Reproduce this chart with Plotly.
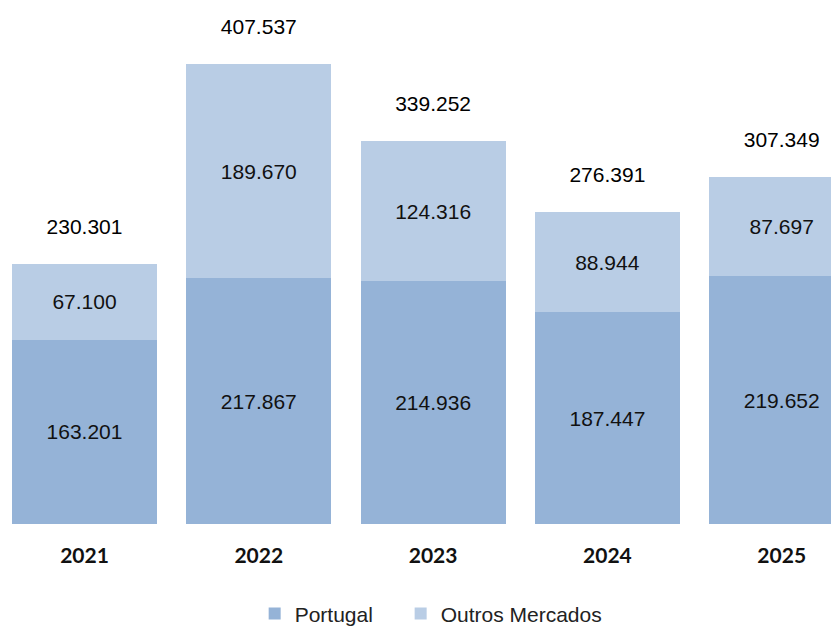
import plotly.graph_objects as go

years = ["2021", "2022", "2023", "2024", "2025"]
portugal = [163201, 217867, 214936, 187447, 219652]
outros = [67100, 189670, 124316, 88944, 87697]
totals = [230301, 407537, 339252, 276391, 307349]

label_font = dict(family="Liberation Sans", size=21, color="#111111")
legend_font = dict(family="Liberation Sans", size=21, color="#222222")

fig = go.Figure()

fig.add_trace(go.Bar(
    x=years, y=portugal, name="Portugal", legend="legend",
    marker=dict(color="#95B3D7", line=dict(width=0)),
    texttemplate="%{y:,.0f}", textposition="inside", insidetextanchor="middle",
    textfont=label_font,
))
fig.add_trace(go.Bar(
    x=years, y=outros, name="Outros Mercados", legend="legend2",
    marker=dict(color="#B9CDE5", line=dict(width=0)),
    texttemplate="%{y:,.0f}", textposition="inside", insidetextanchor="middle",
    textfont=label_font,
))

# totals above each stack (invisible marker just pushes the text up)
fig.add_trace(go.Scatter(
    x=years, y=totals, mode="markers+text", showlegend=False,
    texttemplate="%{y:,.0f}", textposition="top center",
    marker=dict(size=38, color="rgba(0,0,0,0)"),
    textfont=dict(family="Liberation Sans", size=21, color="#000000"),
    cliponaxis=False, hoverinfo="skip",
))

fig.update_layout(
    width=839, height=626,
    barmode="stack", bargap=0.168,
    separators=",.",
    paper_bgcolor="white", plot_bgcolor="white",
    margin=dict(l=0, r=0, t=0, b=110),
    showlegend=True,
    legend=dict(
        orientation="h", xref="container", yref="container",
        x=0.294, xanchor="left", y=0.032, yanchor="middle",
        font=legend_font, itemwidth=30,
    ),
    legend2=dict(
        orientation="h", xref="container", yref="container",
        x=0.468, xanchor="left", y=0.032, yanchor="middle",
        font=legend_font, itemwidth=30,
    ),
)
fig.update_xaxes(
    type="category",
    range=[-0.4389, 4.3746], showgrid=False, showline=False, zeroline=False,
    ticks="", ticklabelstandoff=17,
    tickfont=dict(family="Lato", size=21, weight="bold", color="#111111"),
)
fig.update_yaxes(
    range=[0, 457200], showticklabels=False, showgrid=False, zeroline=False,
)

fig.write_html("out.html")
